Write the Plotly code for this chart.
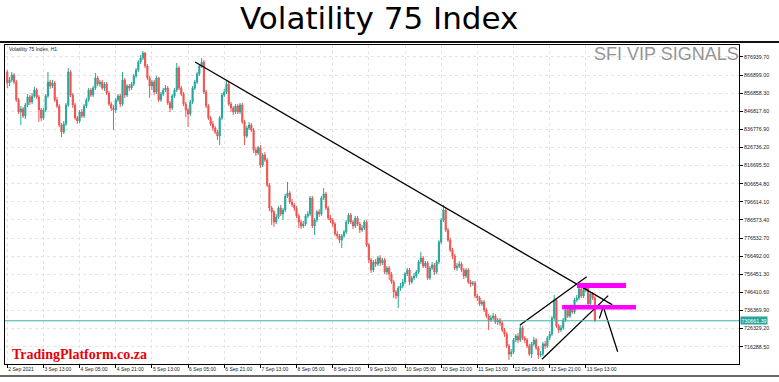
import numpy as np
import plotly.graph_objects as go

# ---------------- data ----------------
x_tick_labels = ["2 Sep 2021", "3 Sep 13:00", "4 Sep 05:00", "4 Sep 21:00", "5 Sep 13:00",
                 "6 Sep 05:00", "6 Sep 21:00", "7 Sep 13:00", "8 Sep 05:00", "8 Sep 21:00",
                 "9 Sep 13:00", "10 Sep 05:00", "10 Sep 21:00", "11 Sep 13:00", "12 Sep 05:00",
                 "12 Sep 21:00", "13 Sep 13:00"]
bars_per_label = 16

y_tick_labels = ["716288.50", "726329.20", "736369.90", "746410.60", "756451.30", "766492.00",
                 "776532.70", "786573.40", "796614.10", "806654.80", "816695.50", "826736.20",
                 "836776.90", "846817.60", "856858.30", "866899.00", "876939.70"]

last_price_label = "730661.39"

# H1 candles, prices in thousands
open_k = [
    868.6, 862.5, 864.2, 866.9, 863.0, 853.1, 846.4, 848.1, 844.2, 850.3,
    854.7, 852.0, 855.3, 858.6, 854.7, 847.5, 843.1, 847.5, 855.3, 863.0,
    860.8, 862.5, 853.1, 849.7, 839.2, 835.3, 839.8, 850.3, 868.6, 855.8,
    850.3, 843.1, 841.4, 846.4, 844.2, 849.7, 853.1, 858.6, 855.8, 859.7,
    865.3, 861.9, 863.0, 859.7, 861.9, 856.9, 850.8, 848.6, 847.5, 853.1,
    855.3, 850.8, 864.2, 855.8, 860.8, 859.7, 861.9, 866.4, 869.7, 874.1,
    876.3, 879.1, 871.9, 865.3, 860.8, 863.0, 857.5, 865.3, 853.1, 856.4,
    858.6, 859.7, 851.4, 848.6, 855.3, 858.6, 870.8, 859.7, 856.4, 850.8,
    847.5, 845.3, 852.0, 859.7, 863.0, 867.5, 871.9, 874.1, 857.5, 849.7,
    843.1, 839.8, 837.5, 835.3, 833.1, 843.1, 855.8, 857.5, 861.9, 850.8,
    848.6, 846.4, 849.7, 846.4, 850.3, 840.9, 833.1, 837.5, 839.2, 836.4,
    825.3, 823.7, 826.5, 817.0, 822.6, 819.8, 805.9, 793.2, 791.0, 785.4,
    788.2, 793.2, 789.9, 792.1, 799.8, 801.5, 796.5, 794.9, 793.2, 788.8,
    785.4, 783.2, 784.3, 788.8, 789.9, 798.7, 783.2, 786.5, 791.0, 789.9,
    798.7, 801.0, 793.2, 787.6, 786.5, 784.3, 778.8, 777.7, 775.4, 777.7,
    779.9, 785.4, 789.3, 785.4, 783.2, 787.6, 784.3, 781.0, 782.1, 785.4,
    772.7, 764.4, 758.8, 763.3, 762.1, 765.5, 762.7, 764.4, 757.7, 759.9,
    756.6, 752.2, 746.6, 744.4, 748.8, 749.9, 752.2, 756.6, 758.8, 752.2,
    754.4, 755.5, 757.7, 763.3, 765.5, 761.0, 762.7, 754.4, 759.9, 761.6,
    757.7, 763.3, 774.3, 786.5, 792.1, 781.0, 775.4, 769.9, 766.6, 759.9,
    761.0, 762.1, 758.8, 755.5, 758.8, 752.2, 751.1, 751.6, 744.4, 743.3,
    740.0, 741.1, 736.6, 733.3, 731.1, 732.2, 733.3, 730.0, 731.1, 729.4,
    725.6, 723.3, 716.7, 712.2, 713.4, 720.0, 722.2, 720.0, 726.7, 721.1,
    720.0, 716.7, 712.2, 717.8, 720.0, 715.6, 711.7, 712.2, 717.8, 716.7,
    721.1, 723.3, 732.2, 742.2, 727.8, 725.6, 726.7, 731.1, 736.6, 733.3,
    737.7, 735.5, 742.2, 743.3, 748.3, 744.4, 747.7, 748.8, 740.0, 745.5,
    743.3]

high_k = [
    869.7, 865.8, 868.6, 868.0, 864.2, 854.2, 849.7, 849.2, 851.4, 856.4,
    855.8, 856.9, 860.3, 859.7, 855.8, 848.6, 848.6, 856.4, 868.6, 864.2,
    864.2, 863.6, 854.7, 850.8, 840.3, 841.4, 851.4, 870.8, 869.7, 856.9,
    851.4, 844.2, 847.5, 848.1, 850.8, 854.2, 859.7, 859.7, 860.8, 868.0,
    866.4, 864.2, 864.2, 863.0, 863.0, 858.1, 852.0, 850.3, 854.2, 856.4,
    856.4, 868.6, 865.3, 861.9, 861.9, 863.0, 867.5, 870.8, 875.2, 878.0,
    880.2, 879.7, 873.0, 866.4, 864.2, 864.2, 866.4, 865.8, 857.5, 859.7,
    861.4, 860.8, 852.5, 856.4, 859.7, 873.6, 871.9, 860.8, 857.5, 852.0,
    848.6, 853.1, 860.8, 864.2, 868.6, 873.0, 876.3, 875.2, 858.6, 850.8,
    844.2, 841.4, 838.7, 836.4, 844.2, 856.9, 859.2, 864.2, 863.0, 852.0,
    849.7, 850.8, 850.8, 851.4, 851.4, 842.0, 838.7, 840.9, 840.3, 837.5,
    827.0, 827.6, 828.1, 823.7, 824.2, 820.9, 807.0, 794.3, 792.1, 789.9,
    794.3, 794.9, 793.2, 801.0, 807.6, 802.6, 798.2, 796.0, 794.3, 789.9,
    786.5, 786.0, 789.9, 791.5, 799.8, 799.8, 787.6, 792.1, 792.6, 799.8,
    804.3, 802.1, 794.3, 789.3, 787.6, 785.4, 780.4, 778.8, 778.8, 781.0,
    786.5, 790.4, 790.4, 786.5, 788.8, 788.8, 785.4, 783.8, 786.5, 786.5,
    773.8, 765.5, 764.4, 764.9, 766.6, 767.1, 765.5, 765.5, 761.0, 761.0,
    757.7, 753.3, 747.7, 749.9, 751.6, 753.8, 757.7, 759.9, 759.9, 755.5,
    757.2, 758.8, 764.4, 768.8, 766.6, 763.8, 763.8, 761.0, 763.3, 762.7,
    764.4, 775.4, 787.6, 794.9, 793.2, 782.1, 776.6, 771.0, 767.7, 762.7,
    763.8, 763.3, 759.9, 759.9, 759.9, 753.3, 752.7, 752.7, 745.5, 744.4,
    742.2, 742.2, 737.7, 734.4, 733.9, 735.0, 734.4, 732.2, 732.2, 730.5,
    726.7, 724.4, 717.8, 715.0, 721.1, 723.3, 723.9, 728.9, 727.8, 722.2,
    721.1, 717.8, 718.9, 721.7, 721.1, 716.7, 713.9, 718.9, 719.5, 722.2,
    725.0, 733.3, 745.0, 743.3, 728.9, 728.3, 732.2, 737.7, 737.7, 738.9,
    739.4, 743.3, 745.0, 751.6, 749.4, 748.8, 750.5, 749.9, 746.6, 746.6,
    744.4]

low_k = [
    859.7, 860.8, 863.0, 861.9, 852.0, 845.3, 839.2, 843.1, 842.5, 849.2,
    850.3, 850.8, 854.2, 853.6, 840.9, 841.4, 842.0, 846.4, 854.2, 859.2,
    859.7, 852.0, 848.6, 838.1, 832.5, 834.2, 838.7, 849.2, 854.7, 848.6,
    842.0, 839.8, 840.3, 843.1, 843.1, 848.6, 852.0, 854.7, 854.7, 858.6,
    860.8, 860.3, 858.6, 858.1, 855.8, 849.7, 847.0, 836.4, 845.9, 852.0,
    849.2, 849.7, 854.2, 854.7, 858.1, 858.6, 860.8, 865.3, 868.6, 873.0,
    875.2, 870.8, 864.2, 854.2, 858.6, 855.8, 856.4, 852.0, 852.0, 855.3,
    857.5, 850.3, 846.4, 847.5, 854.2, 857.5, 858.6, 855.3, 849.7, 843.6,
    838.1, 844.2, 850.8, 858.6, 861.9, 866.4, 870.8, 856.4, 848.6, 842.0,
    838.7, 835.9, 834.2, 830.9, 828.1, 842.0, 854.7, 856.4, 849.7, 846.4,
    844.7, 845.3, 845.3, 845.3, 839.8, 828.1, 832.0, 836.4, 835.3, 823.7,
    822.0, 822.6, 815.4, 815.9, 818.7, 804.8, 791.5, 783.8, 782.7, 784.3,
    787.1, 788.8, 786.5, 791.0, 798.7, 795.4, 793.7, 791.5, 787.6, 782.1,
    781.5, 782.1, 783.2, 787.6, 788.8, 782.1, 778.2, 785.4, 788.2, 788.8,
    797.6, 792.1, 786.5, 784.9, 782.7, 777.7, 776.0, 773.8, 771.0, 776.6,
    778.8, 784.3, 784.3, 781.5, 782.1, 783.2, 779.3, 779.9, 781.0, 771.6,
    762.7, 757.2, 757.7, 760.5, 761.0, 761.0, 761.6, 756.6, 756.0, 753.3,
    751.1, 743.3, 742.7, 737.7, 747.2, 748.8, 751.1, 755.5, 750.5, 751.1,
    753.3, 754.4, 756.6, 762.1, 759.9, 759.9, 753.3, 753.3, 758.8, 756.0,
    756.6, 762.1, 773.2, 785.4, 779.9, 774.3, 768.8, 764.9, 758.8, 758.3,
    759.9, 757.7, 753.8, 754.4, 751.1, 749.4, 749.9, 743.3, 741.6, 738.9,
    738.9, 735.5, 732.2, 725.6, 730.0, 731.1, 728.9, 728.3, 727.8, 724.4,
    721.7, 715.6, 708.9, 710.6, 712.2, 718.9, 718.3, 718.9, 720.0, 718.3,
    715.6, 711.1, 710.0, 716.7, 714.5, 709.5, 710.6, 711.1, 715.0, 715.6,
    720.0, 722.2, 731.1, 726.7, 723.9, 724.4, 725.6, 730.0, 732.2, 732.2,
    734.4, 734.4, 741.1, 742.2, 743.3, 743.3, 746.6, 738.9, 738.9, 742.2,
    730.0]

close_k = [
    862.5, 864.2, 866.9, 863.0, 853.1, 846.4, 848.1, 844.2, 850.3, 854.7,
    852.0, 855.3, 858.6, 854.7, 847.5, 843.1, 847.5, 855.3, 863.0, 860.8,
    862.5, 853.1, 849.7, 839.2, 835.3, 839.8, 850.3, 868.6, 855.8, 850.3,
    843.1, 841.4, 846.4, 844.2, 849.7, 853.1, 858.6, 855.8, 859.7, 865.3,
    861.9, 863.0, 859.7, 861.9, 856.9, 850.8, 848.6, 847.5, 853.1, 855.3,
    850.8, 864.2, 855.8, 860.8, 859.7, 861.9, 866.4, 869.7, 874.1, 876.3,
    879.1, 871.9, 865.3, 860.8, 863.0, 857.5, 865.3, 853.1, 856.4, 858.6,
    859.7, 851.4, 848.6, 855.3, 858.6, 870.8, 859.7, 856.4, 850.8, 847.5,
    845.3, 852.0, 859.7, 863.0, 867.5, 871.9, 874.1, 857.5, 849.7, 843.1,
    839.8, 837.5, 835.3, 833.1, 843.1, 855.8, 857.5, 861.9, 850.8, 848.6,
    846.4, 849.7, 846.4, 850.3, 840.9, 833.1, 837.5, 839.2, 836.4, 825.3,
    823.7, 826.5, 817.0, 822.6, 819.8, 805.9, 793.2, 791.0, 785.4, 788.2,
    793.2, 789.9, 792.1, 799.8, 801.5, 796.5, 794.9, 793.2, 788.8, 785.4,
    783.2, 784.3, 788.8, 789.9, 798.7, 783.2, 786.5, 791.0, 789.9, 798.7,
    801.0, 793.2, 787.6, 786.5, 784.3, 778.8, 777.7, 775.4, 777.7, 779.9,
    785.4, 789.3, 785.4, 783.2, 787.6, 784.3, 781.0, 782.1, 785.4, 772.7,
    764.4, 758.8, 763.3, 762.1, 765.5, 762.7, 764.4, 757.7, 759.9, 756.6,
    752.2, 746.6, 744.4, 748.8, 749.9, 752.2, 756.6, 758.8, 752.2, 754.4,
    755.5, 757.7, 763.3, 765.5, 761.0, 762.7, 754.4, 759.9, 761.6, 757.7,
    763.3, 774.3, 786.5, 792.1, 781.0, 775.4, 769.9, 766.6, 759.9, 761.0,
    762.1, 758.8, 755.5, 758.8, 752.2, 751.1, 751.6, 744.4, 743.3, 740.0,
    741.1, 736.6, 733.3, 731.1, 732.2, 733.3, 730.0, 731.1, 729.4, 725.6,
    723.3, 716.7, 712.2, 713.4, 720.0, 722.2, 720.0, 726.7, 721.1, 720.0,
    716.7, 712.2, 717.8, 720.0, 715.6, 711.7, 712.2, 717.8, 716.7, 721.1,
    723.3, 732.2, 742.2, 727.8, 725.6, 726.7, 731.1, 736.6, 733.3, 737.7,
    735.5, 742.2, 743.3, 748.3, 744.4, 747.7, 748.8, 740.0, 745.5, 743.3,
    730.7]

# hand-drawn analysis objects (bar index, price in thousands)
trend_bars = [83.1, 267.6]
trend_prices_k = [874.1, 739.6]
trend_tail_bars = [267.6, 270.2]
trend_tail_prices_k = [739.6, 737.7]
channel_upper_bars = [226.9, 256.4]
channel_upper_prices_k = [728.3, 755.1]
channel_lower_bars = [236.6, 265.9]
channel_lower_prices_k = [709.3, 744.6]
zigzag_bars = [262.0, 263.7, 270.1]
zigzag_prices_k = [732.0, 738.5, 713.5]
zone_upper_bars = [252.1, 273.8]
zone_upper_prices_k = [748.8, 751.6]
zone_lower_bars = [245.5, 278.2]
zone_lower_prices_k = [736.9, 739.4]

# ---------------- figure ----------------
UP = "#26a69a"
DN = "#ef5350"
K = 1000.0
bars = np.arange(len(close_k))
last_price = float(last_price_label)

W, H = 779, 382
ML, MR, MT, MB = 5, 40, 45, 18
PW, PH = W - ML - MR, H - MT - MB


def px_x(px):
    return (px - ML) / PW


def px_y(py):
    return (H - MB - py) / PH


fig = go.Figure()

fig.add_trace(go.Candlestick(
    x=bars,
    open=np.array(open_k) * K, high=np.array(high_k) * K,
    low=np.array(low_k) * K, close=np.array(close_k) * K,
    increasing=dict(line=dict(color=UP, width=1), fillcolor=UP),
    decreasing=dict(line=dict(color=DN, width=1), fillcolor=DN),
    whiskerwidth=0, hoverinfo="skip", showlegend=False,
))

shapes = []
for zb, zp in ((zone_upper_bars, zone_upper_prices_k), (zone_lower_bars, zone_lower_prices_k)):
    shapes.append(dict(type="rect", xref="x", yref="y", x0=zb[0], x1=zb[1],
                       y0=zp[0] * K, y1=zp[1] * K, fillcolor="#ff00ff",
                       line=dict(width=0), layer="above"))

# current price line
shapes.append(dict(type="line", xref="paper", yref="y", x0=0, x1=1,
                   y0=last_price, y1=last_price, line=dict(color="#3fb3a6", width=1)))
# screenshot frame lines
shapes.append(dict(type="line", xref="paper", yref="paper", x0=px_x(0), x1=px_x(W),
                   y0=px_y(42), y1=px_y(42), line=dict(color="#111", width=2)))
shapes.append(dict(type="line", xref="paper", yref="paper", x0=px_x(0), x1=px_x(W),
                   y0=px_y(376), y1=px_y(376), line=dict(color="#333", width=1.5)))

for lb, lp, col in ((trend_bars, trend_prices_k, "black"),
                    (trend_tail_bars, trend_tail_prices_k, "#2ecc40"),
                    (channel_upper_bars, channel_upper_prices_k, "black"),
                    (channel_lower_bars, channel_lower_prices_k, "black"),
                    (zigzag_bars, zigzag_prices_k, "black")):
    fig.add_trace(go.Scatter(x=lb, y=np.array(lp) * K, mode="lines",
                             line=dict(color=col, width=1.3), hoverinfo="skip",
                             showlegend=False))

small = dict(family="Liberation Sans", size=5, color="#222")

annotations = [
    dict(text="Volatility 75 Index", xref="paper", yref="paper", x=px_x(379), y=px_y(18),
         xanchor="center", yanchor="middle", showarrow=False,
         font=dict(family="DejaVu Sans", size=31, color="black")),
    dict(text="Volatility 75 Index, H1", xref="paper", yref="paper", x=px_x(7), y=px_y(49),
         xanchor="left", yanchor="middle", showarrow=False, font=small),
    dict(text="SFI VIP SIGNALS", xref="paper", yref="paper", x=px_x(741), y=px_y(54),
         xanchor="right", yanchor="middle", showarrow=False,
         font=dict(family="Liberation Sans", size=18, color="#959595")),
    dict(text="TradingPlatform.co.za", xref="paper", yref="paper", x=px_x(10), y=px_y(354.5),
         xanchor="left", yanchor="middle", showarrow=False,
         font=dict(family="Liberation Serif", size=14, color="#e8000b", weight="bold")),
    dict(text=last_price_label, xref="paper", yref="y", x=1, y=last_price, xshift=1,
         xanchor="left", yanchor="middle", showarrow=False, bgcolor=UP, borderpad=0.5,
         font=dict(family="Liberation Sans", size=5.3, color="white")),
]

grid = dict(showgrid=True, gridcolor="#e4e4e4", griddash="3px,3px", gridwidth=1,
            zeroline=False, showline=True, linecolor="black", linewidth=1, mirror=True,
            ticks="outside", ticklen=3, tickcolor="black", tickwidth=1, fixedrange=True,
            automargin=False)

fig.update_layout(
    width=W, height=H,
    margin=dict(l=ML, r=MR, t=MT, b=MB),
    paper_bgcolor="white", plot_bgcolor="white",
    shapes=shapes, annotations=annotations, showlegend=False,
    xaxis=dict(range=[-1, -1 + PW / 2.26], tickmode="array",
               tickvals=[i * bars_per_label for i in range(len(x_tick_labels))],
               ticktext=x_tick_labels, ticklabelposition="outside right", tickangle=0,
               tickfont=small, rangeslider=dict(visible=False), **grid),
    yaxis=dict(side="right", range=[706700, 883550], tickmode="array",
               tickvals=[float(s) for s in y_tick_labels], ticktext=y_tick_labels,
               tickfont=dict(family="Liberation Sans", size=5.3, color="#222"), **grid),
)

fig.write_html("out.html", config={"displayModeBar": False, "staticPlot": True},
               post_script="document.body.style.margin='0';document.body.style.overflow='hidden';")
